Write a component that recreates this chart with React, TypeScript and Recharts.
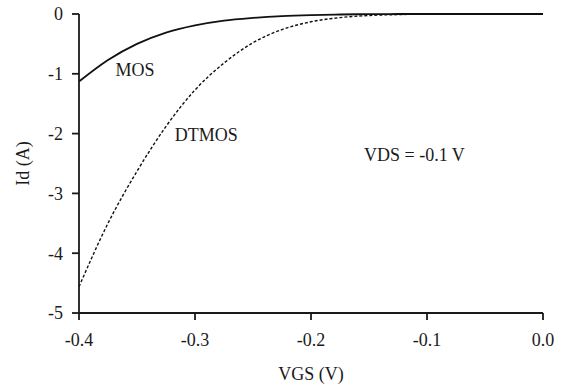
import React from "react";
import { LineChart, Line, XAxis, YAxis, ReferenceDot } from "recharts";

const vgs = [-0.4, -0.375, -0.35, -0.325, -0.3, -0.275, -0.25, -0.225, -0.2, -0.175, -0.15, -0.125, -0.1, -0.075, -0.05, -0.025, 0];
const mosId = [-1.13, -0.77, -0.5, -0.31, -0.19, -0.11, -0.065, -0.035, -0.018, -0.008, -0.003, 0, 0, 0, 0, 0, 0];
const dtmosId = [-4.56, -3.5, -2.63, -1.88, -1.27, -0.82, -0.48, -0.26, -0.13, -0.06, -0.025, -0.01, -0.003, 0, 0, 0, 0];
const xTicks = [-0.4, -0.3, -0.2, -0.1, 0];
const yTicks = [0, -1, -2, -3, -4, -5];

const notes = [
  { x: -0.3685, y: -0.94, text: "MOS" },
  { x: -0.3175, y: -2.02, text: "DTMOS" },
  { x: -0.1543, y: -2.36, text: "VDS = -0.1 V" },
];

const data = vgs.map((v, i) => ({ vgs: v, mos: mosId[i], dtmos: dtmosId[i] }));

const FONT = "'Liberation Serif', 'Times New Roman', serif";
const INK = "#1a1a1a";

function NoteLabel({ viewBox, text }: any) {
  return (
    <text x={viewBox.x} y={viewBox.y} dominantBaseline="central" fontFamily={FONT} fontSize={18} fill={INK}>
      {text}
    </text>
  );
}

function YLabel({ viewBox }: any) {
  const cy = viewBox.y + viewBox.height / 2;
  return (
    <text x={23} y={cy} transform={`rotate(-90 23 ${cy})`} textAnchor="middle" dominantBaseline="central" fontFamily={FONT} fontSize={18} fill={INK}>
      Id (A)
    </text>
  );
}

export default function App() {
  const tickStyle = { fontFamily: FONT, fontSize: 18, fill: INK };
  return (
    <div style={{ position: "absolute", left: 0, top: 0, background: "#fff" }}>
      <LineChart width={562} height={385} data={data} margin={{ top: 14, right: 19, left: 0, bottom: 0 }}>
        <XAxis
          dataKey="vgs"
          type="number"
          domain={[-0.4, 0]}
          ticks={xTicks}
          tickFormatter={(v: number) => v.toFixed(1)}
          height={72}
          tickSize={7}
          tickMargin={13}
          tick={tickStyle}
          axisLine={{ stroke: INK, strokeWidth: 1.8 }}
          tickLine={{ stroke: INK, strokeWidth: 1.8 }}
          label={{ value: "VGS (V)", position: "insideBottom", offset: 5, style: { fontFamily: FONT, fontSize: 18, fill: INK } }}
        />
        <YAxis
          type="number"
          domain={[-5, 0]}
          ticks={yTicks}
          width={79}
          tickSize={7}
          tickMargin={9}
          tick={tickStyle}
          axisLine={{ stroke: INK, strokeWidth: 1.8 }}
          tickLine={{ stroke: INK, strokeWidth: 1.8 }}
          label={<YLabel />}
        />
        <Line type="monotone" dataKey="mos" stroke="#111" strokeWidth={1.8} dot={false} isAnimationActive={false} />
        <Line type="monotone" dataKey="dtmos" stroke="#111" strokeWidth={1.4} strokeDasharray="3 2" dot={false} isAnimationActive={false} />
        {notes.map((n) => (
          <ReferenceDot key={n.text} x={n.x} y={n.y} r={0} fill="none" stroke="none" label={<NoteLabel text={n.text} />} />
        ))}
      </LineChart>
    </div>
  );
}
